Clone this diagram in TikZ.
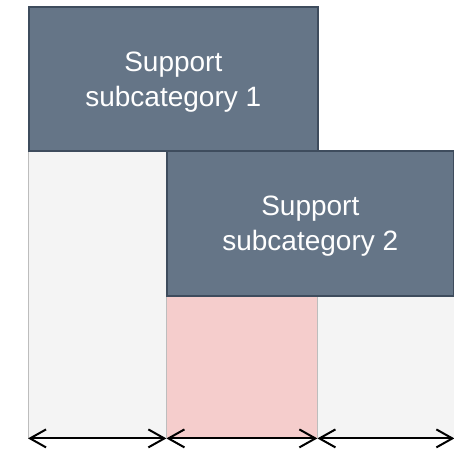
\documentclass[tikz,border=0pt]{standalone}
\usepackage{fontspec}
\setmainfont{Liberation Sans}
\usetikzlibrary{arrows.meta}
\definecolor{slate}{HTML}{657587}
\definecolor{slateedge}{HTML}{3E4C5D}
\definecolor{rosefill}{HTML}{F5CDCC}
\definecolor{greyfill}{HTML}{F4F4F4}
\definecolor{greyedge}{HTML}{BDBDBD}
\tikzset{
  catbox/.style={draw=slateedge, line width=1.6pt, fill=slate, inner sep=0pt, anchor=north west},
  cattext/.style={text=white, font=\fontsize{28}{35}\selectfont, align=center, inner sep=0pt},
  colbox/.style={inner sep=0pt, anchor=north west},
  span/.style={line width=2pt, {Straight Barb[length=16pt,width=18pt,line width=2pt]}-{Straight Barb[length=16pt,width=18pt,line width=2pt]}}
}
\begin{document}
\begin{tikzpicture}[x=1pt,y=-1pt]
\useasboundingbox (0,0) rectangle (454,449);
% column backgrounds
\node[colbox, fill=greyfill, minimum width=138pt, minimum height=288pt] (c1) at (28,150) {};
\node[colbox, fill=rosefill, minimum width=151pt, minimum height=143pt] (c2) at (166,295) {};
\node[colbox, fill=greyfill, minimum width=137pt, minimum height=143pt] (c3) at (317,295) {};
% column dividers
\draw[greyedge, line width=1pt] (c1.north west) -- (c1.south west);
\draw[greyedge, line width=1pt] (c1.north east) -- (c1.south east);
\draw[greyedge, line width=1pt] (c2.north east) -- (c2.south east);
% category boxes
\node[catbox, minimum width=289pt, minimum height=144pt] (s1) at (28,6) {};
\node[catbox, minimum width=287pt, minimum height=145pt] (s2) at (166,150) {};
\node[cattext] (t1) at ([yshift=-3pt]s1.center) {Support\\subcategory 1};
\node[cattext] (t2) at ([yshift=-3pt]s2.center) {Support\\subcategory 2};
% span arrows
\coordinate (a0) at (c1.south west);
\coordinate (a1) at (c1.south east);
\coordinate (a2) at (c2.south east);
\coordinate (a3) at (c3.south east);
\draw[span] (a0) -- (a1);
\draw[span] (a1) -- (a2);
\draw[span] (a2) -- (a3);
\end{tikzpicture}
\end{document}
